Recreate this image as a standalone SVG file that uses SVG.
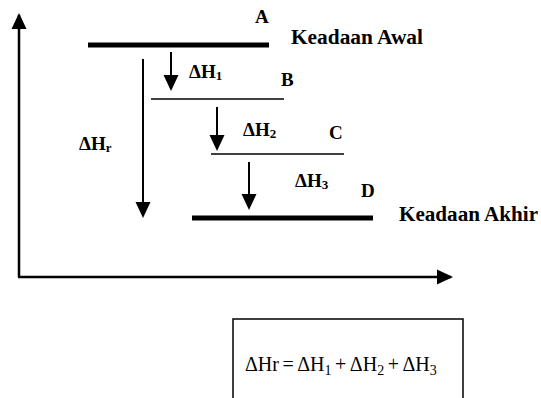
<svg xmlns="http://www.w3.org/2000/svg" width="541" height="398" viewBox="0 0 541 398">
<style>
  .lbl { font-family: "Liberation Serif", "Times New Roman", serif; font-weight: bold; font-size: 19px; fill: #000; }
  .big { font-size: 20px; }
  .sub { font-size: 13px; }
  .eq { font-family: "Liberation Serif", "Times New Roman", serif; font-size: 20px; fill: #000; word-spacing: -1.5px; }
  .eqsub { font-size: 14px; }
  .ax { stroke: #000; stroke-width: 2.5; fill: none; }
  .arr { stroke: #000; stroke-width: 2; fill: none; }
  .bar { stroke: #000; stroke-width: 5; }
  .lvl { stroke: #000; stroke-width: 1.5; }
</style>
<defs>
  <marker id="head" markerUnits="userSpaceOnUse" markerWidth="16" markerHeight="16" refX="14" refY="7.5" orient="auto" viewBox="0 0 16 15">
    <path d="M0,0 L16,7.5 L0,15 z" fill="#000"/>
  </marker>
</defs>
<rect width="541" height="398" fill="#fff"/>

<g id="connectors">
  <line class="ax" x1="19" y1="277" x2="19" y2="15" marker-end="url(#head)"/>
  <line class="ax" x1="18" y1="277" x2="451" y2="277" marker-end="url(#head)"/>
  <line class="arr" x1="143" y1="59" x2="143" y2="216" marker-end="url(#head)"/>
  <line class="arr" x1="171" y1="52" x2="171" y2="89" marker-end="url(#head)"/>
  <line class="arr" x1="217" y1="107" x2="217" y2="149" marker-end="url(#head)"/>
  <line class="arr" x1="249" y1="162" x2="249" y2="208" marker-end="url(#head)"/>
</g>

<g id="level-A">
  <line class="bar" x1="88" y1="45" x2="269" y2="45"/>
  <text class="lbl" x="255" y="23">A</text>
  <text class="lbl big" x="291" y="44" textLength="132" lengthAdjust="spacingAndGlyphs">Keadaan Awal</text>
</g>
<g id="level-B">
  <line class="lvl" x1="151" y1="99" x2="284" y2="99"/>
  <text class="lbl" x="281" y="86">B</text>
</g>
<g id="level-C">
  <line class="lvl" x1="211" y1="154" x2="344" y2="154"/>
  <text class="lbl" x="329" y="139">C</text>
</g>
<g id="level-D">
  <line class="bar" x1="192" y1="218" x2="373" y2="218"/>
  <text class="lbl" x="361" y="197">D</text>
  <text class="lbl big" x="399" y="221" textLength="139" lengthAdjust="spacingAndGlyphs">Keadaan Akhir</text>
</g>

<g id="label-dH1"><text class="lbl" x="189" y="78">ΔH<tspan class="sub" dy="2">1</tspan></text></g>
<g id="label-dH2"><text class="lbl" x="243" y="136">ΔH<tspan class="sub" dy="2">2</tspan></text></g>
<g id="label-dH3"><text class="lbl" x="295" y="187">ΔH<tspan class="sub" dy="2">3</tspan></text></g>
<g id="label-dHr"><text class="lbl" x="79" y="150">ΔH<tspan class="sub" dy="2">r</tspan></text></g>

<g id="equation">
  <rect x="233" y="319" width="230" height="100" fill="none" stroke="#000" stroke-width="1.5"/>
  <text class="eq" x="245" y="371">ΔHr = ΔH<tspan class="eqsub" dy="4">1</tspan><tspan dy="-4"> + ΔH</tspan><tspan class="eqsub" dy="4">2</tspan><tspan dy="-4"> + ΔH</tspan><tspan class="eqsub" dy="4">3</tspan></text>
</g>
</svg>
